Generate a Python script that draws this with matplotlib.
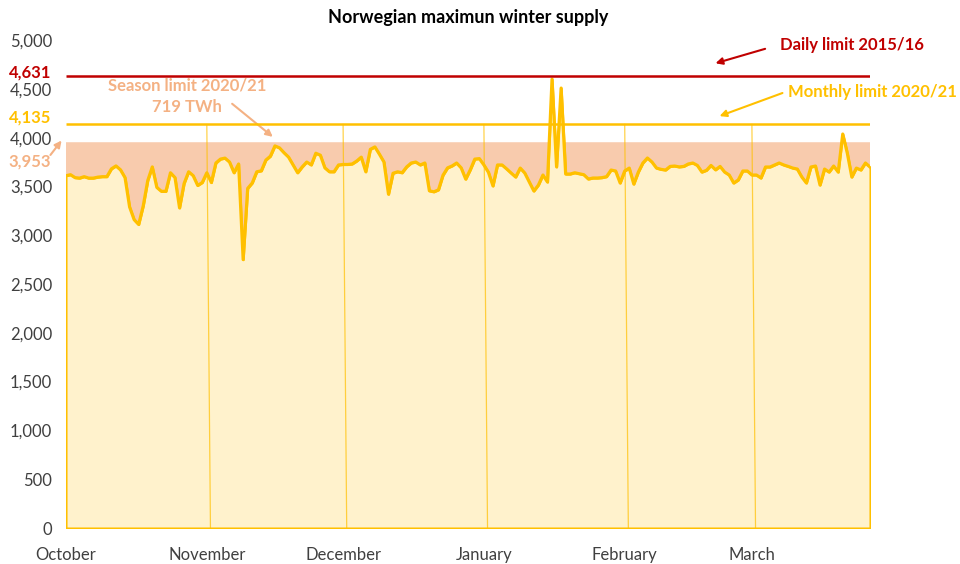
import numpy as np
import matplotlib
matplotlib.use('Agg')
from matplotlib import pyplot as plt

plt.rcParams['font.family'] = ['Lato', 'DejaVu Sans']

# daily max supply, Oct 1 onwards (GWh/d)
supply = [
    # October
    3610, 3620, 3590, 3585, 3600, 3585, 3585, 3595, 3600, 3600,
    3680, 3710, 3670, 3590, 3290, 3160, 3110, 3300, 3560, 3700,
    3490, 3450, 3450, 3640, 3590, 3280, 3530, 3650, 3610, 3510, 3540,
    # November
    3640, 3540, 3740, 3780, 3790, 3750, 3640, 3730, 2750, 3480,
    3535, 3650, 3660, 3770, 3810, 3915, 3895, 3845, 3800, 3720,
    3640, 3700, 3750, 3720, 3840, 3820, 3690, 3650, 3650, 3720,
    # December
    3725, 3725, 3730, 3760, 3800, 3650, 3880, 3905, 3830, 3750,
    3420, 3635, 3650, 3640, 3700, 3740, 3750, 3720, 3740, 3455,
    3445, 3465, 3615, 3690, 3710, 3740, 3690, 3575, 3670, 3780, 3785,
    # January
    3720, 3645, 3505, 3720, 3720, 3680, 3637, 3596, 3688, 3637,
    3545, 3453, 3514, 3617, 3545, 4600, 3700, 4508, 3627, 3627,
    3640, 3630, 3620, 3576, 3586, 3586, 3590, 3600, 3668, 3658, 3535,
    # February
    3658, 3688, 3524, 3647, 3740, 3791, 3750, 3688, 3675, 3668,
    3705, 3709, 3700, 3705, 3730, 3740, 3715, 3647, 3665, 3715,
    3670, 3705, 3647, 3617, 3535, 3566, 3658, 3658,
    # March
    3617, 3617, 3586, 3699, 3699, 3720, 3740, 3720, 3705, 3688,
    3678, 3596, 3535, 3699, 3709, 3514, 3678, 3647, 3709, 3647,
    4037, 3842, 3596, 3688, 3668, 3740, 3699,
]
months = ['October', 'November', 'December', 'January', 'February', 'March']
month_days = [31, 30, 31, 31, 28, 31]

daily_limit = 4631
monthly_limit = 4135
season_limit = 3953

RED = '#C00000'
GOLD = '#FFC000'
SALMON = '#F4B183'
BAND = '#F8CBAD'
LIGHT = '#FFF2CC'
GREY = '#404040'

vals = np.array(supply)
days = np.arange(len(vals))
month_start = np.concatenate([[0], np.cumsum(month_days)[:-1]])

fig = plt.figure(figsize=(9.6, 5.64), dpi=100)
ax = fig.add_axes([0.06875, 0.0638, 0.8375, 0.8652])

# season band and area under supply
ax.fill_between(days, vals, season_limit, where=vals < season_limit,
                interpolate=True, color=BAND, lw=0, zorder=1)
ax.fill_between(days, 0, vals, facecolor=LIGHT, edgecolor=GOLD, lw=1.5, zorder=2)

# month separators
for m in month_start[1:]:
    ax.plot([m, m + 0.8], [monthly_limit, 0], color=GOLD, lw=0.9, alpha=0.7, zorder=3)

ax.plot(days, vals, color=GOLD, lw=2.3, zorder=4, solid_joinstyle='round')
ax.hlines(daily_limit, 0, days[-1], color=RED, lw=1.8, zorder=4)
ax.hlines(monthly_limit, 0, days[-1], color=GOLD, lw=1.8, zorder=4)

ax.set_xlim(0, days[-1])
ax.set_ylim(0, 5000)
ax.set_yticks(np.arange(0, 5001, 500))
ax.set_yticklabels([f'{v:,}' for v in range(0, 5001, 500)])
ax.set_xticks(month_start)
ax.set_xticklabels(months)
ax.tick_params(length=0, labelsize=12, colors=GREY)
ax.tick_params(axis='y', pad=10)
ax.tick_params(axis='x', pad=14)
for s in ax.spines.values():
    s.set_visible(False)

ax.set_title('Norwegian maximun winter supply', fontsize=13, fontweight='bold', pad=12)

# limit labels on the y axis
ax.text(-3.3, daily_limit + 40, f'{daily_limit:,}', color=RED, fontsize=12,
        fontweight='bold', ha='right', va='center')
ax.text(-3.3, monthly_limit + 70, f'{monthly_limit:,}', color=GOLD, fontsize=12,
        fontweight='bold', ha='right', va='center')
ax.text(-3.3, 3760, f'{season_limit:,}', color=SALMON, fontsize=12,
        fontweight='bold', ha='right', va='center')
ax.annotate('', xy=(-0.6, season_limit + 40), xytext=(-3.8, 3800),
            arrowprops=dict(arrowstyle='-|>', color=SALMON, lw=1.5), annotation_clip=False)

# callouts
ax.text(157.2, 4949, 'Daily limit 2015/16', color=RED, fontsize=12,
        fontweight='bold', ha='left', va='center', clip_on=False)
ax.annotate('', xy=(142.4, 4754), xytext=(154.5, 4918),
            arrowprops=dict(arrowstyle='-|>', color=RED, lw=1.5), annotation_clip=False)

ax.text(158.9, 4467, 'Monthly limit 2020/21', color=GOLD, fontsize=12,
        fontweight='bold', ha='left', va='center', clip_on=False)
ax.annotate('', xy=(143.3, 4211), xytext=(158.3, 4467),
            arrowprops=dict(arrowstyle='-|>', color=GOLD, lw=1.5), annotation_clip=False)

ax.text(26.6, 4426, 'Season limit 2020/21\n719 TWh', color=SALMON, fontsize=12,
        fontweight='bold', ha='center', va='center', linespacing=1.45)
ax.annotate('', xy=(46.0, 3990), xytext=(36.1, 4365),
            arrowprops=dict(arrowstyle='-|>', color=SALMON, lw=1.5))

fig.savefig('out.png', dpi=100)
